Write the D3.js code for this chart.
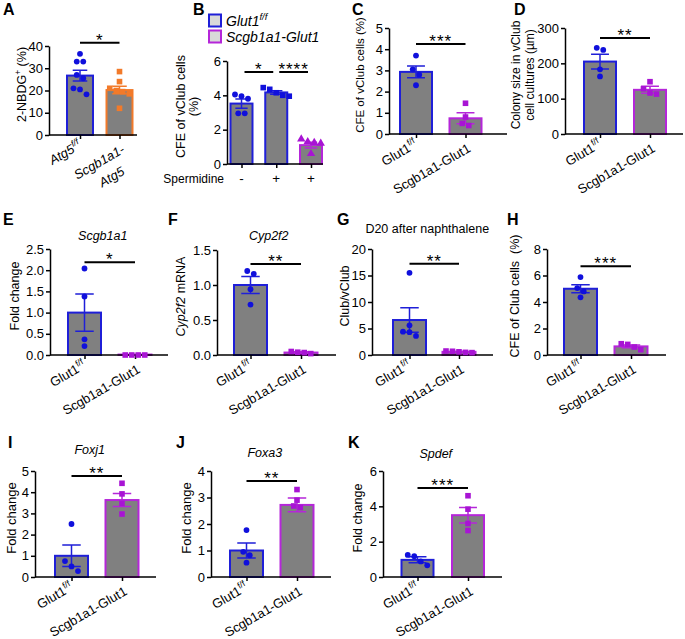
<!DOCTYPE html>
<html>
<head>
<meta charset="utf-8">
<script src="https://cdn.jsdelivr.net/npm/d3@7"></script>
<style>
body { margin: 0; background: #fff; }
svg { font-family: "Liberation Sans", Arial, sans-serif; }
text { white-space: pre; }
</style>
</head>
<body>
<svg id="fig" width="685" height="639"></svg>
<script>
// ---- data ----
var panelIds = ["A", "B", "C", "D", "E", "F", "G", "H", "I", "J", "K"];

var yTitles = [
    "2-NBDG|s:+| (%)",
    "CFE of vClub cells\n(%)",
    "CFE of vClub cells (%)",
    "Colony size in vClub\ncell cultures (µm)",
    "Fold change",
    "i:Cyp2f2| mRNA",
    "Club/vClub",
    "CFE of Club cells  (%)",
    "Fold change",
    "Fold change",
    "Fold change"
];
var panelTitles = ["", "", "", "", "i:Scgb1a1", "i:Cyp2f2", "D20 after naphthalene", "", "i:Foxj1", "i:Foxa3", "i:Spdef"];

var ctrlLabel = "Glut1|s:f/f";
var koLabel = "Scgb1a1-Glut1";
var xLabels = [
    ["i:Atg5|is:f/f", "i:Scgb1a1-\ni:Atg5"],
    ["-", "+", "+"],
    [ctrlLabel, koLabel], [ctrlLabel, koLabel], [ctrlLabel, koLabel], [ctrlLabel, koLabel],
    [ctrlLabel, koLabel], [ctrlLabel, koLabel], [ctrlLabel, koLabel], [ctrlLabel, koLabel],
    [ctrlLabel, koLabel]
];
var legendLabels = ["i:Glut1|is:f/f", "i:Scgb1a1-Glut1"];

var yMax = [40, 6, 5, 300, 2.5, 1.5, 20, 8, 5, 4, 6];
var yTicks = [
    [0, 10, 20, 30, 40], [0, 2, 4, 6], [0, 1, 2, 3, 4, 5], [0, 100, 200, 300],
    [0, 0.5, 1, 1.5, 2, 2.5], [0, 0.5, 1, 1.5], [0, 5, 10, 15, 20], [0, 2, 4, 6, 8],
    [0, 1, 2, 3, 4, 5], [0, 1, 2, 3, 4], [0, 2, 4, 6]
];
var yFmt = ["d", "d", "d", "d", ".1f", ".1f", "d", "d", "d", "d", "d"];

var means = [
    [26.7, 20.2], [3.52, 4.17, 1.1], [2.93, 0.74], [205, 125], [1.0, 0.01], [1.0, 0.035],
    [6.6, 0.6], [5.0, 0.65], [1.0, 3.63], [1.0, 2.72], [0.97, 3.5]
];
var sems = [
    [2.4, 1.7], [0.27, 0.1, 0.17], [0.28, 0.26], [21, 10], [0.44, 0], [0.12, 0.01],
    [2.3, 0.06], [0.31, 0.1], [0.51, 0.31], [0.28, 0.26], [0.17, 0.44]
];
var points = [
    [[36.5, 33, 33, 27, 25.5, 21, 20.5, 18.3], [28.5, 24, 21, 20, 19.5, 18.5, 12]],
    [[4.05, 3.95, 3.8, 2.95, 2.95], [4.45, 4.35, 4.15, 4.0, 3.95], [1.45, 1.3, 1.25, 1.2, 0.6]],
    [[3.7, 3.05, 2.8, 2.3], [1.45, 0.8, 0.5, 0.4]],
    [[244, 238, 183, 163], [148, 128, 116, 113]],
    [[2.04, 1.38, 0.37, 0.21], [0, 0, 0, 0]],
    [[1.2, 1.16, 0.94, 0.72], [0.05, 0.04, 0.035, 0.02]],
    [[15.5, 5.6, 4.4, 4.3, 3.6], [0.75, 0.7, 0.6, 0.5, 0.45]],
    [[5.88, 5.05, 4.8, 4.35], [0.85, 0.8, 0.6, 0.4]],
    [[2.5, 0.75, 0.5, 0.28], [4.42, 3.92, 3.47, 2.97]],
    [[1.77, 0.95, 0.82, 0.54], [3.3, 2.9, 2.68, 2.62]],
    [[1.25, 1.18, 0.88, 0.66], [4.6, 3.84, 3.03, 2.63]]
];
// genotype of each bar (colour) and marker shape
var groupKeys = [
    ["ctrl", "atg5"], ["ctrl", "ctrl", "ko"], ["ctrl", "ko"], ["ctrl", "ko"], ["ctrl", "ko"], ["ctrl", "ko"],
    ["ctrl", "ko"], ["ctrl", "ko"], ["ctrl", "ko"], ["ctrl", "ko"], ["ctrl", "ko"]
];
var markers = [
    ["circle", "square"], ["circle", "square", "triangle"], ["circle", "square"], ["circle", "square"],
    ["circle", "square"], ["circle", "square"], ["circle", "square"], ["circle", "square"],
    ["circle", "square"], ["circle", "square"], ["circle", "square"]
];
// [panel, from bar, to bar, height (data units), stars]
var sigs = [
    [0, 0, 1, 41.5, "*"], [1, 0, 1, 5.36, "*"], [1, 1, 2, 5.36, "****"], [2, 0, 1, 4.25, "***"],
    [3, 0, 1, 272, "**"], [4, 0, 1, 2.19, "*"], [5, 0, 1, 1.3, "**"], [6, 0, 1, 17.2, "**"],
    [7, 0, 1, 6.7, "***"], [8, 0, 1, 4.76, "**"], [9, 0, 1, 3.62, "**"], [10, 0, 1, 5.04, "***"]
];

// ---- layout ----
var colors = { ctrl: "#1f1fd8", ko: "#b526d9", atg5: "#f27a2a" };
var ptColors = { ctrl: "#1010dc", ko: "#a814d4", atg5: "#f27a2a" };
var layout = [
    { x: 49,  top: 46,  bottom: 135, right: 137, c0: 80,    step: 39.5,  bw: 26, tx: [22],       lx: 3,   ly: 15,  hy: 0,   ts: 12.5 },
    { x: 227, top: 61,  bottom: 164, right: 323, c0: 241.5, step: 34.75, bw: 22, tx: [181, 194], lx: 193, ly: 15,  hy: 0,   ts: 12.5 },
    { x: 389, top: 28,  bottom: 134, right: 507, c0: 416,   step: 49.5,  bw: 32, tx: [360],      lx: 352, ly: 15,  hy: 0,   ts: 11.5 },
    { x: 565, top: 28,  bottom: 134, right: 683, c0: 600,   step: 50,    bw: 32, tx: [516, 530], lx: 514, ly: 15,  hy: 0,   ts: 12 },
    { x: 50,  top: 249, bottom: 355, right: 168, c0: 84.5,  step: 50.5,  bw: 33, tx: [15],       lx: 3,   ly: 225, hy: 240, ts: 12.5 },
    { x: 217, top: 250, bottom: 355, right: 336, c0: 250.5, step: 50.5,  bw: 33, tx: [181],      lx: 168, ly: 225, hy: 240, ts: 12.5 },
    { x: 372, top: 249, bottom: 355, right: 493, c0: 409.5, step: 49.5,  bw: 33, tx: [345],      lx: 337, ly: 225, hy: 233, ts: 12.5 },
    { x: 547, top: 249, bottom: 355, right: 666, c0: 580.5, step: 50.5,  bw: 33, tx: [515],      lx: 507, ly: 225, hy: 0,   ts: 12.5 },
    { x: 35,  top: 471, bottom: 577, right: 156, c0: 71.5,  step: 50.5,  bw: 33, tx: [11],       lx: 8,   ly: 448, hy: 454, ts: 13 },
    { x: 211, top: 471, bottom: 577, right: 331, c0: 246.5, step: 50.5,  bw: 33, tx: [186],      lx: 176, ly: 448, hy: 457, ts: 13 },
    { x: 383, top: 471, bottom: 577, right: 502, c0: 417.5, step: 50.5,  bw: 32, tx: [358],      lx: 348, ly: 448, hy: 458, ts: 12.5 }
];
var FONT = "Liberation Sans, Arial, sans-serif";

var svg = d3.select("#fig");
svg.append("rect").attr("width", 685).attr("height", 639).attr("fill", "#fff");

// text with simple markup: segments split by "|", prefix "i:" italic, "s:" superscript
function addRich(t, str, size) {
    var wasSuper = false;
    str.split("|").forEach(function (seg) {
        var flags = "", s = seg;
        var m = seg.match(/^([is]+):(.*)$/);
        if (m) { flags = m[1]; s = m[2]; }
        var ts = t.append("tspan").text(s);
        if (flags.indexOf("i") >= 0) ts.attr("font-style", "italic");
        if (flags.indexOf("s") >= 0) {
            ts.attr("font-size", size * 0.68).attr("dy", -size * 0.42);
            wasSuper = true;
        } else if (wasSuper) {
            ts.attr("dy", size * 0.42);
            wasSuper = false;
        }
    });
}

function drawMarker(g, shape, cx, cy, c) {
    if (shape === "circle") {
        g.append("circle").attr("cx", cx).attr("cy", cy).attr("r", 2.9).attr("fill", c);
    } else if (shape === "square") {
        g.append("rect").attr("x", cx - 2.8).attr("y", cy - 2.8).attr("width", 5.6).attr("height", 5.6).attr("fill", c);
    } else {
        g.append("path").attr("d", d3.symbol(d3.symbolTriangle, 30)())
            .attr("transform", "translate(" + cx + "," + cy + ")").attr("fill", c);
    }
}

function drawPanel(i) {
    var L = layout[i], n = means[i].length;
    var g = svg.append("g");
    var x = d3.scalePoint().domain(d3.range(n)).range([L.c0, L.c0 + L.step * (n - 1)]);
    var y = d3.scaleLinear().domain([0, yMax[i]]).range([L.bottom, L.top]);

    // bars
    g.selectAll(".bar").data(means[i]).enter().append("rect")
        .attr("x", function (d, j) { return x(j) - L.bw / 2; })
        .attr("y", function (d) { return y(d); })
        .attr("width", L.bw)
        .attr("height", function (d) { return y(0) - y(d); })
        .attr("fill", "#808080")
        .attr("stroke", function (d, j) { return colors[groupKeys[i][j]]; })
        .attr("stroke-width", 2);

    // axes
    var ya = d3.axisLeft(y).tickValues(yTicks[i]).tickFormat(d3.format(yFmt[i]))
        .tickSize(4).tickSizeOuter(0).tickPadding(2);
    var gy = g.append("g").attr("transform", "translate(" + L.x + ",0)").call(ya);
    g.append("line").attr("x1", L.x).attr("x2", L.right).attr("y1", y(0)).attr("y2", y(0))
        .attr("stroke", "#000").attr("stroke-width", 1.5);
    var gx = g.append("g").attr("transform", "translate(0," + y(0) + ")")
        .call(d3.axisBottom(x).tickSize(4).tickFormat(function () { return ""; }));
    gx.select(".domain").remove();
    [gy, gx].forEach(function (a) {
        a.attr("font-family", FONT).attr("font-size", 13);
        a.selectAll("path,line").attr("stroke", "#000").attr("stroke-width", 1.5);
        a.selectAll("text").attr("fill", "#000");
    });

    // error bars (mean +/- SEM)
    means[i].forEach(function (m, j) {
        var s = sems[i][j];
        if (!s) return;
        var cx = x(j), cw = L.bw * 0.28;
        g.append("path")
            .attr("d", "M" + (cx - cw) + "," + y(m + s) + "H" + (cx + cw) +
                "M" + cx + "," + y(m + s) + "V" + y(m - s) +
                "M" + (cx - cw) + "," + y(m - s) + "H" + (cx + cw))
            .attr("stroke", colors[groupKeys[i][j]]).attr("stroke-width", 1.5).attr("fill", "none");
    });

    // points, spread sideways where they overlap
    points[i].forEach(function (vals, j) {
        var py = vals.map(function (v) { return y(v); });
        var order = d3.range(vals.length).sort(function (a, b) { return py[a] - py[b]; });
        var clusters = [], cur = [];
        order.forEach(function (k) {
            if (cur.length && py[k] - py[cur[cur.length - 1]] >= 5.5) { clusters.push(cur); cur = []; }
            cur.push(k);
        });
        if (cur.length) clusters.push(cur);
        clusters.forEach(function (cl) {
            cl.forEach(function (k, m) {
                var px = x(j) + (m - (cl.length - 1) / 2) * 6.5;
                drawMarker(g, markers[i][j], px, py[k], ptColors[groupKeys[i][j]]);
            });
        });
    });

    // x labels
    if (i === 1) {
        xLabels[i].forEach(function (lab, j) {
            g.append("text").attr("x", x(j)).attr("y", y(0) + 19).attr("text-anchor", "middle")
                .attr("font-size", 13.5).text(lab);
        });
        g.append("text").attr("x", 224).attr("y", y(0) + 19).attr("text-anchor", "end")
            .attr("font-size", 12).text("Spermidine");
    } else {
        xLabels[i].forEach(function (lab, j) {
            lab.split("\n").forEach(function (line, k) {
                var sup = line.indexOf("s:") >= 0;
                var dx = sup ? 2 : 6, dy = sup ? 13 : 17;
                var t = g.append("text")
                    .attr("transform", "translate(" + (x(j) + dx) + "," + (y(0) + dy + k * 22) + ") rotate(-30)")
                    .attr("text-anchor", "end").attr("font-size", 13);
                addRich(t, line, 13);
            });
        });
    }

    // y title
    var mid = (L.top + L.bottom) / 2 - 6;
    yTitles[i].split("\n").forEach(function (line, k) {
        var t = g.append("text")
            .attr("transform", "translate(" + L.tx[k] + "," + mid + ") rotate(-90)")
            .attr("text-anchor", "middle").attr("dy", "0.35em").attr("font-size", L.ts);
        addRich(t, line, L.ts);
    });

    // panel title
    if (panelTitles[i]) {
        var t = g.append("text").attr("x", (x(0) + x(n - 1)) / 2 - 7).attr("y", L.hy)
            .attr("text-anchor", "middle").attr("font-size", 12.5);
        addRich(t, panelTitles[i], 12.5);
    }

    // panel letter
    g.append("text").attr("x", L.lx).attr("y", L.ly).attr("font-size", 16).attr("font-weight", "bold")
        .text(panelIds[i]);

    // significance
    sigs.filter(function (s) { return s[0] === i; }).forEach(function (s) {
        var x1 = x(s[1]) + (n > 2 ? 3 : 0), x2 = x(s[2]) - (n > 2 ? 3 : 0), sy = y(s[3]);
        g.append("line").attr("x1", x1).attr("x2", x2).attr("y1", sy).attr("y2", sy)
            .attr("stroke", "#000").attr("stroke-width", 2);
        g.append("text").attr("x", (x1 + x2) / 2).attr("y", sy + 3).attr("text-anchor", "middle")
            .attr("font-size", 17).attr("letter-spacing", 1).text(s[4]);
    });
}

layout.forEach(function (L, i) { drawPanel(i); });

// legend of panel B
var leg = svg.append("g");
legendLabels.forEach(function (lab, k) {
    var key = k === 0 ? "ctrl" : "ko";
    leg.append("rect").attr("x", 209).attr("y", 14.5 + k * 16).attr("width", 12).attr("height", 12)
        .attr("fill", "#d9d9d9").attr("stroke", colors[key]).attr("stroke-width", 2);
    var t = leg.append("text").attr("x", 226).attr("y", 25.5 + k * 16).attr("font-size", 14);
    addRich(t, lab, 14);
});
</script>
</body>
</html>
